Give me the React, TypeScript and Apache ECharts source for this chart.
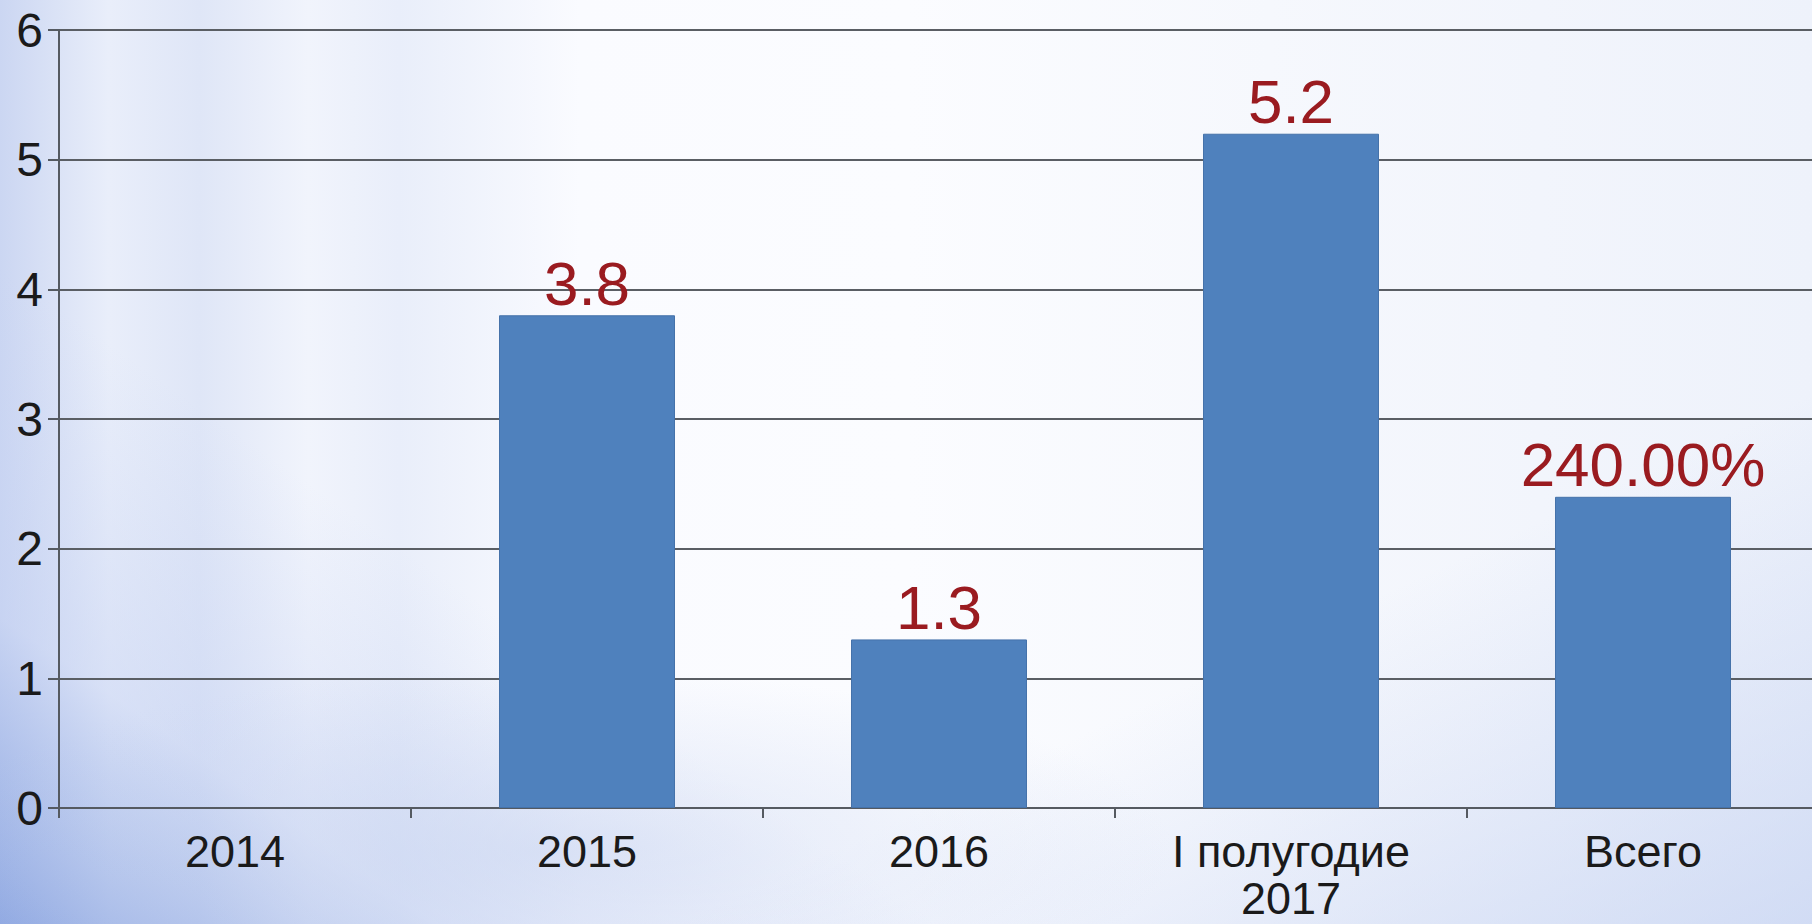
import React, { useEffect, useRef } from "react";
import * as echarts from "echarts";

const categories = ["2014", "2015", "2016", "I полугодие\n2017", "Всего"];
const values: (number | null)[] = [null, 3.8, 1.3, 5.2, 2.4];
const valueLabels = ["", "3.8", "1.3", "5.2", "240.00%"];
const yTicks = [0, 1, 2, 3, 4, 5, 6];

const FONT = "'Liberation Sans', Arial, sans-serif";

export default function App() {
  const ref = useRef<HTMLDivElement>(null);
  useEffect(() => {
    if (!ref.current) return;
    const chart = echarts.init(ref.current, undefined, { renderer: "svg" });
    chart.setOption({
      animation: false,
      grid: { left: 59, top: 30, right: 0, bottom: 116, containLabel: false },
      xAxis: {
        type: "category",
        data: categories,
        axisLine: { show: true, lineStyle: { color: "#555a61", width: 2 } },
        axisTick: { show: true, length: 10, lineStyle: { color: "#555a61", width: 2 } },
        axisLabel: {
          color: "#1a1a1a",
          fontSize: 45,
          fontFamily: FONT,
          margin: 20,
          lineHeight: 47,
          interval: 0,
        },
      },
      yAxis: {
        type: "value",
        min: yTicks[0],
        max: yTicks[yTicks.length - 1],
        interval: 1,
        axisLine: { show: true, lineStyle: { color: "#555a61", width: 2 } },
        axisTick: { show: true, length: 11, lineStyle: { color: "#555a61", width: 2 } },
        splitLine: { show: true, lineStyle: { color: "#5a5e64", width: 2 } },
        axisLabel: {
          color: "#1a1a1a",
          fontSize: 48,
          fontFamily: FONT,
          margin: 16,
        },
      },
      series: [
        {
          type: "bar",
          data: values,
          barWidth: "50%",
          itemStyle: { color: "#4F81BD", borderColor: "#4572aa", borderWidth: 1 },
          label: {
            show: true,
            position: "top",
            distance: 1,
            color: "#9A1B20",
            fontSize: 62,
            fontFamily: FONT,
            formatter: (p: any) => valueLabels[p.dataIndex],
          },
        },
      ],
    });
    return () => chart.dispose();
  }, []);
  return (
    <div
      style={{
        position: "fixed",
        left: 0,
        top: 0,
        width: 1812,
        height: 924,
        overflow: "hidden",
        background:
          "radial-gradient(ellipse 900px 260px at 30% 92%, rgba(200,212,240,0.55), rgba(255,255,255,0) 70%)," +
          "linear-gradient(155deg, rgba(255,255,255,0) 70%, rgba(190,205,240,0.6) 100%)," +
          "linear-gradient(35deg, rgba(130,158,222,0.8) 0%, rgba(195,208,242,0.45) 14%, rgba(255,255,255,0) 30%)," +
          "linear-gradient(90deg, #cbd6f2 0%, #e9eefa 6%, #dfe6f7 11%, #f1f4fc 17%, #e9eefa 22%, #fafbff 32%, #fbfcff 50%, #f6f8fd 70%, #eef2fb 100%)",
      }}
    >
      <div ref={ref} style={{ width: 1819, height: 924 }} />
    </div>
  );
}
